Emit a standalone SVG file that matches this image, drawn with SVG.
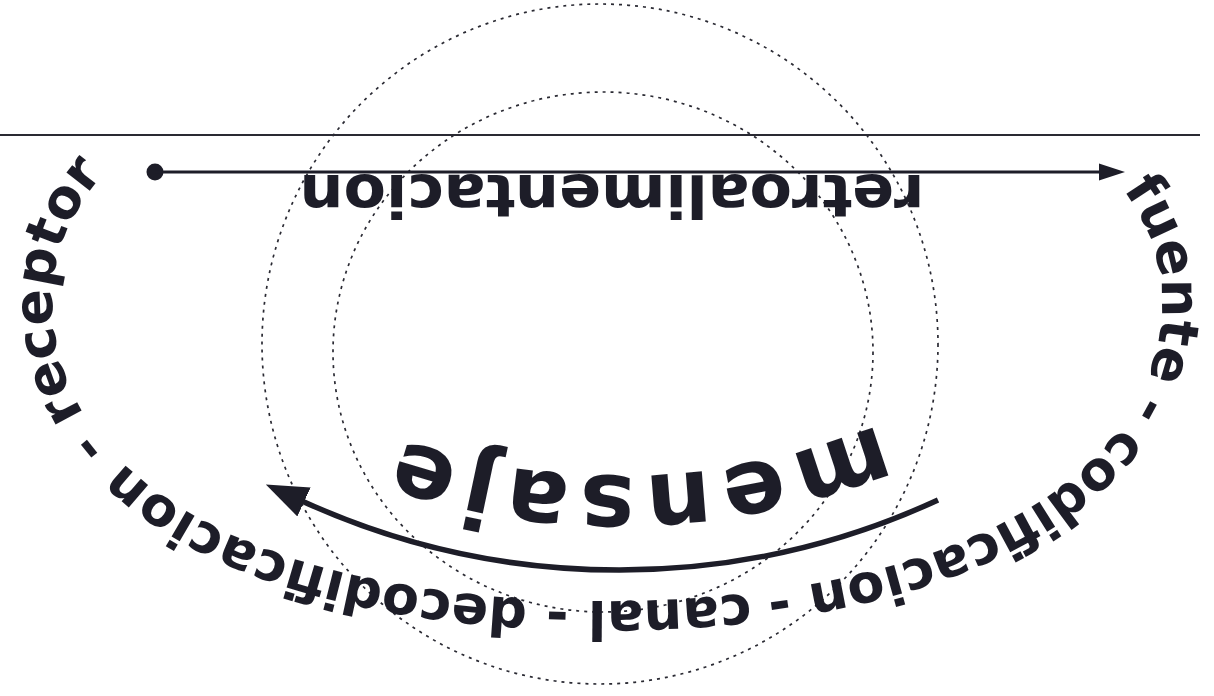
<svg xmlns="http://www.w3.org/2000/svg" width="1214" height="696" viewBox="0 0 1214 696">
<defs>
<style>
.lbl{font-family:"DejaVu Sans","Liberation Sans",sans-serif;font-weight:bold;fill:#1d1d28;}
.ring{font-size:54px;}
.dotted{fill:none;stroke:#2a2a33;stroke-width:1.7;stroke-dasharray:3 5;}
.conn{fill:none;stroke:#1d1d28;}
</style>
<path id="ringPath" d="M 1088.2,150 A 555 301 0 0 1 1162,300 C 1162,490 928,601 607,601 C 258,601 52,480 52,300 A 555 301 0 0 1 125.8,150"/>
<path id="msgPath" d="M 950,388.2 A 668 668 0 0 1 320,405.3"/>
<marker id="headTop" markerUnits="userSpaceOnUse" markerWidth="28" markerHeight="20" refX="1" refY="9" orient="auto"><path d="M0,0.5 L26,9 L0,17.5 z" fill="#1d1d28"/></marker>
<marker id="headMsg" markerUnits="userSpaceOnUse" markerWidth="46" markerHeight="34" refX="3" refY="16" orient="auto"><path d="M0,0 L42,16 L0,32 z" fill="#1d1d28"/></marker>
</defs>
<rect width="1214" height="696" fill="#ffffff"/>

<g id="guides">
<line x1="0" y1="135" x2="1200" y2="135" stroke="#2a2a33" stroke-width="2"/>
<ellipse class="dotted" cx="600" cy="344" rx="338" ry="340"/>
<ellipse class="dotted" cx="603" cy="352" rx="270" ry="260"/>
</g>

<g id="connectors">
<circle cx="155" cy="172" r="8.5" fill="#1d1d28"/>
<line class="conn" x1="155" y1="172" x2="1100" y2="172" stroke-width="3" marker-end="url(#headTop)"/>
<path class="conn" d="M 938,500 A 762 762 0 0 1 301.3,500.7" stroke-width="5.5" marker-end="url(#headMsg)"/>
</g>

<g id="node-retroalimentacion">
<text class="lbl" transform="translate(612,175) rotate(180)" x="0" y="0" font-size="58" text-anchor="middle" textLength="625" lengthAdjust="spacingAndGlyphs">retroalimentacion</text>
</g>

<g id="node-mensaje">
<text class="lbl" font-size="92" letter-spacing="9" text-anchor="middle"><textPath href="#msgPath" startOffset="50%">mensaje</textPath></text>
</g>

<g id="node-fuente">
<text class="lbl ring" text-anchor="middle"><textPath href="#ringPath" startOffset="152">fuente</textPath></text>
</g>
<g id="node-codificacion">
<text class="lbl ring" text-anchor="middle"><textPath href="#ringPath" startOffset="487">codificacion</textPath></text>
</g>
<g id="node-canal">
<text class="lbl ring" text-anchor="middle"><textPath href="#ringPath" startOffset="806">canal</textPath></text>
</g>
<g id="node-decodificacion">
<text class="lbl ring" text-anchor="middle"><textPath href="#ringPath" startOffset="1165">decodificacion</textPath></text>
</g>
<g id="node-receptor">
<text class="lbl ring" text-anchor="middle"><textPath href="#ringPath" startOffset="1575">receptor</textPath></text>
</g>

<g id="separators">
<text class="lbl ring" text-anchor="middle"><textPath href="#ringPath" startOffset="279">-</textPath></text>
<text class="lbl ring" text-anchor="middle"><textPath href="#ringPath" startOffset="697">-</textPath></text>
<text class="lbl ring" text-anchor="middle"><textPath href="#ringPath" startOffset="917">-</textPath></text>
<text class="lbl ring" text-anchor="middle"><textPath href="#ringPath" startOffset="1415">-</textPath></text>
</g>
</svg>
